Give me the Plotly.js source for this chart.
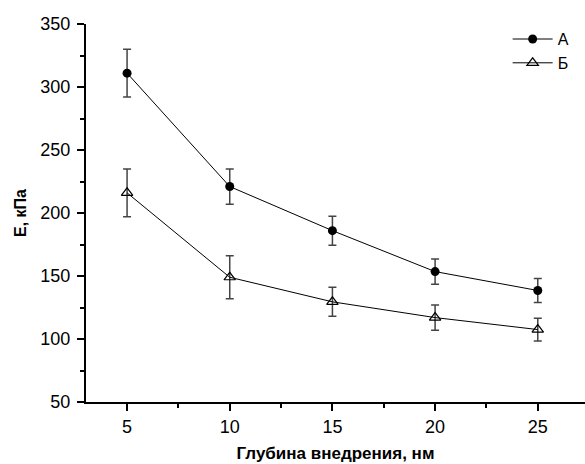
<!DOCTYPE html>
<html>
<head>
<meta charset="utf-8">
<script src="https://cdn.plot.ly/plotly-3.0.1.min.js"></script>
<style>html,body{margin:0;padding:0;background:#fff;}#chart{width:585px;height:464px;}</style>
</head>
<body>
<div id="chart"></div>
<script>
const depth = [5, 10, 15, 20, 25];
const seriesA = [311, 221, 186, 153.5, 138.5];
const errA = [19, 14, 11.5, 10, 9.5];
const seriesB = [216, 149, 129.5, 117, 107.5];
const errB = [19, 17, 11.5, 10, 9];
const nameA = 'А';
const nameB = 'Б';
const xTitle = 'Глубина внедрения, нм';
const yTitle = 'E, кПа';

const font = 'Liberation Sans, Arial, Helvetica, sans-serif';

const traces = [
  {
    x: depth, y: seriesA, name: nameA, type: 'scatter', mode: 'lines+markers',
    line: {color: '#000', width: 1},
    marker: {symbol: 'circle', size: 9, color: '#000'},
    error_y: {type: 'data', array: errA, visible: true, color: '#444', thickness: 1.5, width: 4}
  },
  {
    x: depth, y: seriesB, name: nameB, type: 'scatter', mode: 'lines+markers',
    line: {color: '#000', width: 1},
    marker: {symbol: 'triangle-up-open', size: 10, color: '#000', line: {width: 1.2, color: '#000'}},
    error_y: {type: 'data', array: errB, visible: true, color: '#444', thickness: 1.5, width: 4}
  }
];

const layout = {
  width: 585, height: 464,
  margin: {l: 86, r: 0, t: 24, b: 62, pad: 0},
  paper_bgcolor: '#fff', plot_bgcolor: '#fff',
  font: {family: font, color: '#000', size: 17},
  showlegend: true,
  legend: {x: 0.845, y: 1.005, xanchor: 'left', yanchor: 'top', bgcolor: 'rgba(0,0,0,0)',
           font: {size: 16, family: font}, tracegroupgap: 0, itemwidth: 40},
  xaxis: {
    range: [3, 27.3], tickvals: [5, 10, 15, 20, 25], ticktext: ['5','10','15','20','25'],
    ticks: 'outside', ticklen: 7, tickwidth: 2, tickcolor: '#000',
    minor: {tickvals: [7.5, 12.5, 17.5, 22.5, 27.5], ticks: 'outside', ticklen: 4, tickwidth: 2, tickcolor: '#000'},
    showline: true, linewidth: 2, linecolor: '#000', showgrid: false, zeroline: false,
    tickfont: {size: 18, family: font},
    title: {text: xTitle, font: {size: 17, family: font, weight: 'bold'}, standoff: 12}
  },
  yaxis: {
    range: [50, 350], tickvals: [50, 100, 150, 200, 250, 300, 350],
    ticks: 'outside', ticklen: 7, tickwidth: 2, tickcolor: '#000',
    ticklabelstandoff: 3,
    minor: {tickvals: [75, 125, 175, 225, 275, 325], ticks: 'outside', ticklen: 4, tickwidth: 2, tickcolor: '#000'},
    showline: true, linewidth: 2, linecolor: '#000', showgrid: false, zeroline: false,
    tickfont: {size: 18, family: font},
    title: {text: yTitle, font: {size: 16, family: font, weight: 'bold'}, standoff: 10}
  }
};

Plotly.newPlot('chart', traces, layout, {displayModeBar: false, staticPlot: true});
</script>
</body>
</html>
